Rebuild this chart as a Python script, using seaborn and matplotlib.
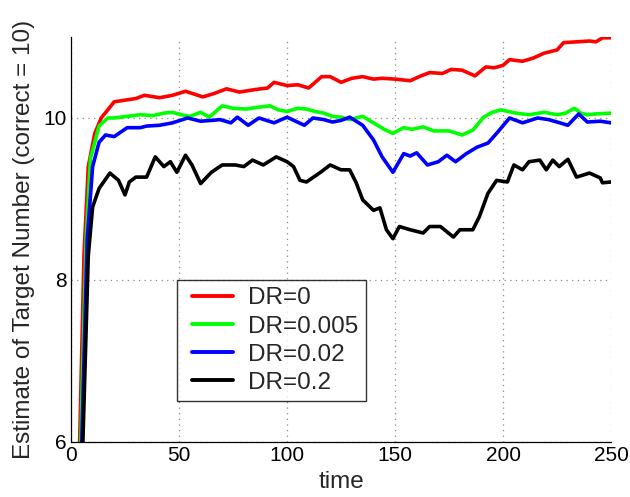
import matplotlib
matplotlib.use("Agg")
import matplotlib.pyplot as plt
from matplotlib.lines import Line2D
from matplotlib.legend_handler import HandlerLine2D
import seaborn as sns
import pandas as pd

series_names = ["DR=0", "DR=0.005", "DR=0.02", "DR=0.2"]
colors = ["#ff0000", "#00ff00", "#0000ff", "#000000"]

red_t = [3, 4, 6, 8, 11, 14, 20, 25, 30, 34, 41, 47, 53, 61, 66, 72, 78, 85, 91, 94,
         100, 105, 110, 116, 120, 125, 130, 135, 140, 144, 150, 157, 162, 166, 172, 176,
         181, 187, 192, 196, 200, 203, 209, 214, 219, 225, 228, 234, 240, 243, 246, 250]
red_v = [3, 6.0, 8.3, 9.4, 9.81, 10.0, 10.2, 10.22, 10.24, 10.28, 10.25, 10.28, 10.33, 10.26,
         10.30, 10.36, 10.32, 10.35, 10.37, 10.44, 10.40, 10.41, 10.37, 10.51, 10.51, 10.44,
         10.49, 10.51, 10.48, 10.49, 10.48, 10.46, 10.52, 10.56, 10.55, 10.60, 10.59, 10.52,
         10.63, 10.62, 10.65, 10.72, 10.70, 10.74, 10.80, 10.84, 10.93, 10.94, 10.95, 10.94,
         10.99, 10.99]

green_t = [3, 4.5, 7, 9, 13, 17, 20, 26, 32, 38, 43, 47, 51, 55, 60, 64, 70, 75, 81, 86,
           92, 96, 100, 105, 109, 113, 117, 121, 125, 129, 135, 140, 145, 149, 154, 158, 163,
           168, 175, 181, 186, 191, 195, 199, 206, 212, 219, 225, 229, 233, 236, 239, 243, 250]
green_v = [3, 6.0, 8.5, 9.5, 9.9, 10.0, 10.0, 10.02, 10.04, 10.03, 10.06, 10.07, 10.04, 10.02,
           10.07, 10.01, 10.15, 10.12, 10.11, 10.13, 10.15, 10.10, 10.08, 10.12, 10.11, 10.08,
           10.06, 10.02, 10.01, 9.98, 10.02, 9.94, 9.86, 9.81, 9.88, 9.86, 9.89, 9.84, 9.84,
           9.79, 9.85, 10.01, 10.07, 10.10, 10.06, 10.04, 10.07, 10.04, 10.06, 10.12, 10.06,
           10.04, 10.05, 10.06]

blue_t = [3, 5, 7.5, 10, 13, 16, 20, 26, 32, 35, 41, 47, 54, 60, 65, 69, 74, 77, 82, 87,
          94, 100, 104, 108, 112, 117, 121, 125, 129, 135, 140, 144, 149, 154, 157, 160, 165,
          170, 174, 178, 183, 188, 193, 197, 203, 209, 216, 221, 225, 230, 235, 239, 245, 250]
blue_v = [3, 6.0, 8.5, 9.4, 9.7, 9.79, 9.77, 9.88, 9.88, 9.90, 9.91, 9.94, 10.0, 9.96, 9.97,
          9.98, 9.94, 10.01, 9.91, 10.0, 9.94, 10.01, 9.96, 9.91, 10.0, 9.98, 9.95, 9.97, 10.01,
          9.91, 9.73, 9.52, 9.33, 9.56, 9.53, 9.57, 9.42, 9.46, 9.54, 9.46, 9.56, 9.64, 9.69,
          9.81, 10.0, 9.94, 10.0, 9.98, 9.95, 9.91, 10.05, 9.95, 9.96, 9.94]

black_t = [3, 5.5, 8, 10, 13, 18, 22, 25, 27, 30, 35, 39, 43, 46, 49, 53, 56, 60, 65, 70,
           76, 80, 84, 89, 95, 100, 103, 106, 109, 115, 120, 125, 129, 132, 135, 140, 143, 146,
           149, 152, 157, 163, 166, 171, 177, 180, 186, 189, 193, 197, 202, 205, 209, 212, 217,
           220, 223, 226, 230, 234, 240, 245, 246, 250]
black_v = [3, 6.0, 8.3, 8.9, 9.13, 9.32, 9.23, 9.05, 9.21, 9.27, 9.27, 9.52, 9.40, 9.46, 9.33,
           9.54, 9.42, 9.19, 9.33, 9.42, 9.42, 9.40, 9.48, 9.42, 9.52, 9.46, 9.40, 9.23, 9.21,
           9.32, 9.42, 9.36, 9.36, 9.20, 8.99, 8.86, 8.89, 8.62, 8.51, 8.66, 8.62, 8.58, 8.66,
           8.66, 8.53, 8.62, 8.62, 8.78, 9.07, 9.23, 9.21, 9.42, 9.36, 9.46, 9.48, 9.36, 9.48,
           9.40, 9.49, 9.27, 9.32, 9.26, 9.20, 9.21]

x_ticks = [0, 50, 100, 150, 200, 250]
y_ticks = [6, 8, 10]

frames = []
for name, t, v in zip(series_names, [red_t, green_t, blue_t, black_t],
                      [red_v, green_v, blue_v, black_v]):
    frames.append(pd.DataFrame({"time": t, "value": v, "series": name}))
df = pd.concat(frames, ignore_index=True)

sns.set_style("white")
plt.rcParams["font.family"] = ["Liberation Sans", "DejaVu Sans"]

fig = plt.figure(figsize=(6.3, 4.97), dpi=100)
ax = fig.add_axes([0.1127, 0.1107, 0.970 - 0.1127, 0.9256 - 0.1107])

sns.lineplot(data=df, x="time", y="value", hue="series", hue_order=series_names,
             palette=dict(zip(series_names, colors)), estimator=None, sort=False,
             linewidth=2.6, ax=ax)

ax.set_xlim(0, 250)
ax.set_ylim(6, 11)
ax.set_xticks(x_ticks)
ax.set_yticks(y_ticks)
ax.tick_params(labelsize=15, direction="in", length=3, width=0.6, colors="black", pad=3)
ax.grid(True, linestyle=(0, (1, 3.5)), color="#888888", linewidth=0.9)
for s in ["top", "right"]:
    ax.spines[s].set_visible(False)
for s in ["left", "bottom"]:
    ax.spines[s].set_color("black")
    ax.spines[s].set_linewidth(0.9)

ax.set_xlabel("time", fontsize=17.5, labelpad=4)
ax.set_ylabel("Estimate of Target Number (correct = 10)", fontsize=17.5, labelpad=6)

leg = ax.legend(loc="lower left", bbox_to_anchor=(177 / 630, (497 - 401) / 497),
                bbox_transform=fig.transFigure, borderaxespad=0, fontsize=17.5,
                frameon=True, fancybox=False, edgecolor="black", handlelength=2.0,
                handletextpad=0.62, labelspacing=0.25, borderpad=0.3,
                handler_map={Line2D: HandlerLine2D(xpad=0.32)})
leg.get_frame().set_linewidth(1.0)
for line in leg.get_lines():
    line.set_linewidth(2.8)

fig.savefig("out.png", dpi=100)
